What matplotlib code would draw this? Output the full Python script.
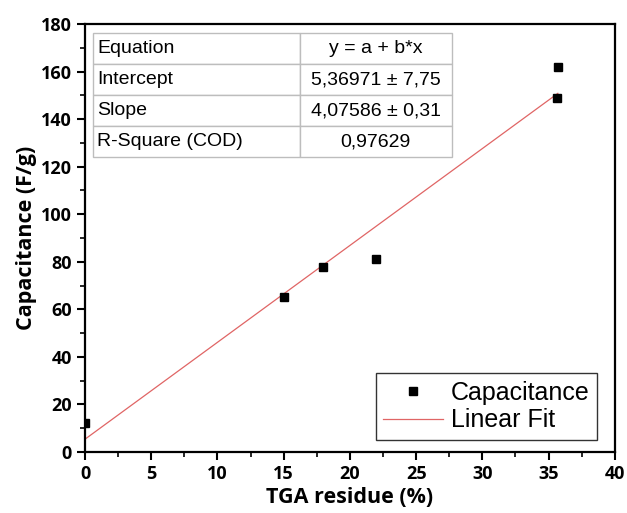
import matplotlib.pyplot as plt
import numpy as np

# data
tga_residue = [0, 15, 18, 22, 35.6, 35.7]
capacitance = [12, 65, 78, 81, 149, 162]

intercept = 5.36971
slope = 4.07586

table_rows = [
    ["Equation", "y = a + b*x"],
    ["Intercept", "5,36971 \u00b1 7,75"],
    ["Slope", "4,07586 \u00b1 0,31"],
    ["R-Square (COD)", "0,97629"],
]

x_ticks = np.arange(0, 41, 5)
y_ticks = np.arange(0, 181, 20)

fig = plt.figure(figsize=(6.27, 5.13), dpi=100)
ax = fig.add_axes([0.1356, 0.119, 0.845, 0.834])

ax.plot(tga_residue, capacitance, "s", color="black", markersize=6.2, label="Capacitance", zorder=3)
x_fit = np.array([min(tga_residue), max(tga_residue)])
ax.plot(x_fit, intercept + slope * x_fit, color="#e06565", linewidth=0.9, label="Linear Fit", zorder=2)

ax.set_xlim(0, 40)
ax.set_ylim(0, 180)
ax.set_xticks(x_ticks)
ax.set_yticks(y_ticks)
ax.set_xticks(np.arange(2.5, 40, 5), minor=True)
ax.set_yticks(np.arange(10, 180, 20), minor=True)
ax.tick_params(which="major", direction="out", length=6, width=1.5, labelsize=13)
ax.tick_params(which="minor", direction="out", length=3.5, width=1.2)
for lbl in ax.get_xticklabels() + ax.get_yticklabels():
    lbl.set_fontfamily("Open Sans")
    lbl.set_fontweight("bold")
for sp in ax.spines.values():
    sp.set_linewidth(1.6)

ax.set_xlabel("TGA residue (%)", fontfamily="Open Sans", fontweight="bold", fontsize=15.5, labelpad=3)
ax.set_ylabel("Capacitance (F/g)", fontfamily="Open Sans", fontweight="bold", fontsize=15.5, labelpad=3)

tbl = ax.table(cellText=table_rows, colWidths=[0.577, 0.423], cellLoc="center",
               bbox=[0.015, 0.689, 0.677, 0.29])
tbl.auto_set_font_size(False)
for (r, c), cell in tbl.get_celld().items():
    cell.set_edgecolor("#bdbdbd")
    cell.set_linewidth(1.0)
    txt = cell.get_text()
    txt.set_fontfamily("Liberation Sans")
    txt.set_fontsize(14)
    if c == 0:
        txt.set_horizontalalignment("left")
        cell.PAD = 0.02
tbl.set_zorder(4)

leg = ax.legend(loc="lower right", bbox_to_anchor=(0.966, 0.028), frameon=True, fancybox=False,
                edgecolor="black", prop={"family": "Liberation Sans", "size": 18},
                handlelength=2.4, handletextpad=0.3, borderpad=0.3, labelspacing=0.15,
                borderaxespad=0)
leg.get_frame().set_linewidth(1.0)

fig.savefig("out.png", dpi=100)
